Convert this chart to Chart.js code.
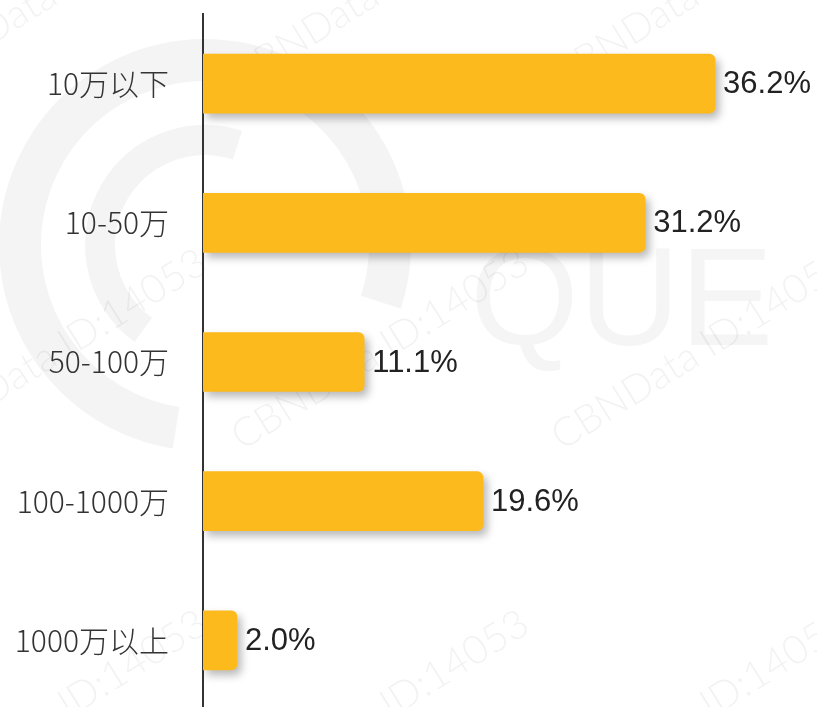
<!DOCTYPE html>
<html>
<head>
<meta charset="utf-8">
<script src="https://cdn.jsdelivr.net/npm/chart.js@4"></script>
<style>
  html, body { margin: 0; padding: 0; background: #fff; overflow: hidden; }
  #myChart { position: absolute; left: 0; top: 0; }
</style>
</head>
<body>
<canvas id="myChart" width="817" height="710"></canvas>
<script>
var categories = ["10万以下", "10-50万", "50-100万", "100-1000万", "1000万以上"]
var shares = [36.2, 31.2, 11.1, 19.6, 2.0]
var axisMin = -0.43
var axisMax = 43.49

// faint watermark behind everything
var watermark = {
  id: "watermark",
  beforeDraw(chart) {
    var ctx = chart.ctx
    ctx.save()
    ctx.strokeStyle = "#f4f4f4"
    ctx.lineWidth = 42
    ctx.beginPath()
    ctx.arc(205, 245, 185, Math.PI * 0.55, Math.PI * 2.1)
    ctx.stroke()
    ctx.lineWidth = 30
    ctx.beginPath()
    ctx.arc(205, 245, 105, Math.PI * 0.7, Math.PI * 1.6)
    ctx.stroke()
    ctx.fillStyle = "#f5f5f5"
    ctx.font = "140px 'Liberation Sans', Arial, sans-serif"
    ctx.textBaseline = "alphabetic"
    ctx.fillText("QUE", 470, 345)
    ctx.fillStyle = "rgba(0,0,0,0.05)"
    ctx.font = "300 40px Lato, 'Open Sans', sans-serif"
    var xs = [-80, 242, 562]
    var ys = [90, 451, 812]
    xs.forEach(function (x) {
      ys.forEach(function (y) {
        ctx.save()
        ctx.translate(x, y)
        ctx.rotate(-32 * Math.PI / 180)
        ctx.fillText("CBNData ID:14053", 0, 0)
        ctx.restore()
      })
    })
    ctx.restore()
  }
}

var barShadow = {
  id: "barShadow",
  beforeDatasetDraw(chart) {
    var ctx = chart.ctx
    ctx.save()
    ctx.shadowColor = "rgba(0,0,0,0.28)"
    ctx.shadowBlur = 8
    ctx.shadowOffsetX = 4
    ctx.shadowOffsetY = 5
  },
  afterDatasetDraw(chart) {
    chart.ctx.restore()
  }
}

var valueLabels = {
  id: "valueLabels",
  afterDatasetsDraw(chart) {
    var ctx = chart.ctx
    var meta = chart.getDatasetMeta(0)
    ctx.save()
    ctx.fillStyle = "#222"
    ctx.font = "31px 'Liberation Sans', Arial, sans-serif"
    ctx.textAlign = "left"
    ctx.textBaseline = "middle"
    meta.data.forEach(function (bar, i) {
      ctx.fillText(shares[i].toFixed(1) + "%", bar.x + 8, bar.y + 1)
    })
    ctx.restore()
  }
}

new Chart("myChart", {
  type: "bar",
  data: {
    labels: categories,
    datasets: [{
      data: shares.map(function (v) { return [axisMin, v] }),
      backgroundColor: "#FDBA1C",
      borderSkipped: false,
      borderRadius: { topLeft: 0, bottomLeft: 0, topRight: 6, bottomRight: 6 },
      barThickness: 59
    }]
  },
  options: {
    indexAxis: "y",
    responsive: false,
    animation: false,
    layout: { padding: { top: 14, left: 0, right: 0, bottom: 0 } },
    plugins: {
      legend: { display: false },
      tooltip: { enabled: false }
    },
    scales: {
      x: {
        display: false,
        min: axisMin,
        max: axisMax
      },
      y: {
        afterFit(scale) {
          scale.width = 203
          scale.paddingTop = 0
          scale.paddingBottom = 0
        },
        grid: { display: false, drawTicks: false },
        border: { display: true, color: "#333", width: 2 },
        ticks: {
          padding: 34,
          color: "#333",
          font: { family: "'Noto Sans CJK SC', sans-serif", size: 30, weight: 300 }
        }
      }
    }
  },
  plugins: [watermark, barShadow, valueLabels]
})
</script>
</body>
</html>
